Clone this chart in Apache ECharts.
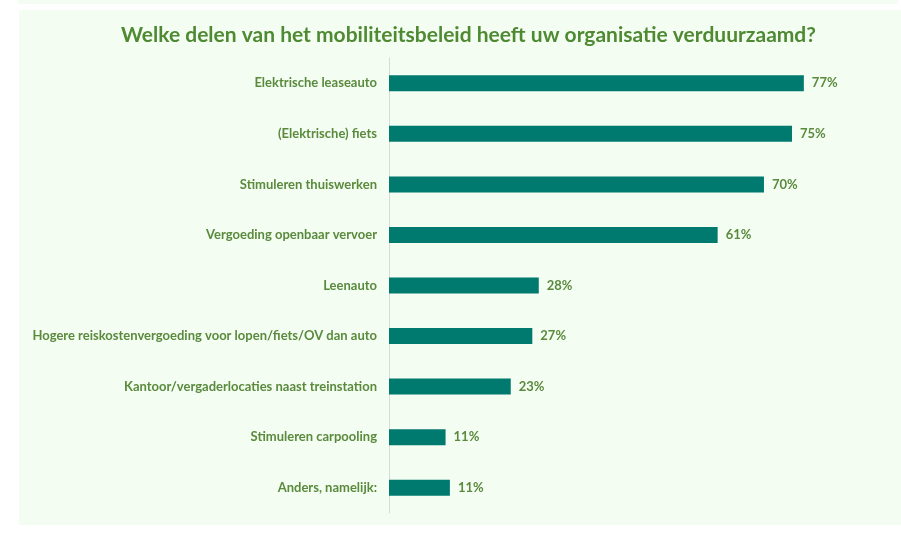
<!DOCTYPE html>
<html>
<head>
<meta charset="utf-8">
<script src="https://cdn.jsdelivr.net/npm/echarts@6/dist/echarts.min.js"></script>
<style>
  html, body { margin: 0; padding: 0; background: #ffffff; }
  #chart { width: 901px; height: 543px; }
</style>
</head>
<body>
<div id="chart"></div>
<script>
const titleText = 'Welke delen van het mobiliteitsbeleid heeft uw organisatie verduurzaamd?';

const categories = [
  'Elektrische leaseauto',
  '(Elektrische) fiets',
  'Stimuleren thuiswerken',
  'Vergoeding openbaar vervoer',
  'Leenauto',
  'Hogere reiskostenvergoeding voor lopen/fiets/OV dan auto',
  'Kantoor/vergaderlocaties naast treinstation',
  'Stimuleren carpooling',
  'Anders, namelijk:'
];

// share of respondents, percent
const values = [77.0, 74.8, 69.6, 61.0, 27.8, 26.6, 22.6, 10.5, 11.3];

const textGreen = '#5a8a3c';
const barColor = '#00796f';
const fontFamily = 'Lato, "Open Sans", sans-serif';

const chart = echarts.init(document.getElementById('chart'));

chart.setOption({
  backgroundColor: '#ffffff',
  animation: false,
  graphic: [
    { type: 'rect', z: -10, shape: { x: 18, y: 0, width: 880, height: 4 }, style: { fill: '#f3fdf2' } },
    { type: 'rect', z: -10, shape: { x: 19, y: 10, width: 882, height: 515 }, style: { fill: '#f3fdf2' } }
  ],
  title: {
    text: titleText,
    left: 116,
    top: 20,
    textStyle: { color: '#4f8a32', fontSize: 21, fontWeight: 'bold', fontFamily: fontFamily }
  },
  grid: { left: 389, top: 58, bottom: 30, right: 81, containLabel: false },
  xAxis: {
    type: 'value',
    min: 0,
    max: 80,
    show: false
  },
  yAxis: {
    type: 'category',
    data: categories,
    inverse: true,
    axisLine: { show: true, lineStyle: { color: '#d9d9d9', width: 1 } },
    axisTick: { show: false },
    axisLabel: {
      margin: 12,
      color: textGreen,
      fontSize: 13,
      fontWeight: 'bold',
      fontFamily: fontFamily
    }
  },
  series: [{
    type: 'bar',
    data: values,
    barWidth: 16,
    itemStyle: { color: barColor },
    label: {
      show: true,
      position: 'right',
      distance: 8,
      formatter: p => Math.round(p.value) + '%',
      color: textGreen,
      fontSize: 13,
      fontWeight: 'bold',
      fontFamily: fontFamily
    }
  }]
});
</script>
</body>
</html>
